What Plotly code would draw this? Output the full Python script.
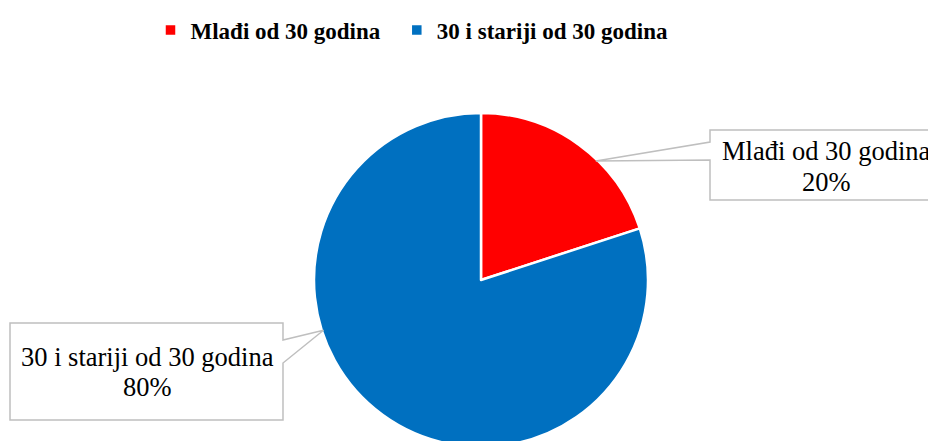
import math
import plotly.graph_objects as go

# data
labels = ["Mlađi od 30 godina", "30 i stariji od 30 godina"]
values = [20, 80]
colors = ["#FF0000", "#0070C0"]

W, H = 936, 441
OX, OY = 8, 8  # page offset of the plot div
FONT = "Liberation Serif, Times New Roman, serif"

# pie geometry in screen pixels
cx, cy, r = 481, 280, 167


def px(x, y):
    # screen pixel -> paper coords (margins are zero)
    return (x - OX) / W, 1 - (y - OY) / H


fig = go.Figure()

x0p, _ = px(cx - r, 0)
x1p, _ = px(cx + r, 0)
_, y1p = px(0, cy - r)
_, y0p = px(0, cy + r)

# a little trailing space on the first legend entry to widen the gap between items
legend_labels = [labels[0] + "\u00a0" * 2, labels[1]]

fig.add_trace(go.Pie(
    labels=legend_labels,
    values=values,
    marker=dict(colors=colors, line=dict(color="white", width=2.5)),
    sort=False,
    direction="clockwise",
    rotation=0,
    textinfo="none",
    customdata=labels,
    hovertemplate="%{customdata}<br>%{percent}<extra></extra>",
    domain=dict(x=[x0p, x1p], y=[max(y0p, 0), y1p]),
))

total = sum(values)
pct = [f"{v / total * 100:.0f}%" for v in values]


def callout(box, tip_angle, side):
    # box = (x0, y0, x1, y1) in px; pointer from pie edge at tip_angle (deg, clockwise from top)
    bx0, by0, bx1, by1 = box
    a = math.radians(tip_angle)
    tx = cx + r * 0.99 * math.sin(a)
    ty = cy - r * 0.99 * math.cos(a)
    if side == "left":
        pts = [(bx0, by0), (bx1, by0), (bx1, by1), (bx0, by1), (bx0, 160), (tx, ty), (bx0, 142)]
    else:
        pts = [(bx0, by0), (bx1, by0), (bx1, 340), (tx, ty), (bx1, 363), (bx1, by1), (bx0, by1)]
    path = ""
    for i, (x, y) in enumerate(pts):
        u, v = px(x, y)
        path += ("M" if i == 0 else "L") + f"{u:.5f},{v:.5f} "
    path += "Z"
    fig.add_shape(type="path", path=path, xref="paper", yref="paper",
                  fillcolor="white", line=dict(color="#BFBFBF", width=1.5), layer="above")


callout((710, 130, 950, 200), 44, "left")
callout((10, 323, 283, 420), 252.3, "right")

# label text, one annotation per line
label_pos = [(826, 151, 182), (147, 357, 387)]
for (tx, ly1, ly2), lab, p in zip(label_pos, labels, pct):
    for txt, ty in ((lab, ly1), (p, ly2)):
        u, v = px(tx, ty)
        fig.add_annotation(x=u, y=v, xref="paper", yref="paper", showarrow=False,
                           xanchor="center", yanchor="middle", text=txt,
                           font=dict(family=FONT, size=26.5, color="black"))

lx, ly = px(150.5, 30)
fig.update_layout(
    width=W,
    height=H,
    margin=dict(l=0, r=0, t=0, b=0),
    paper_bgcolor="white",
    plot_bgcolor="white",
    showlegend=True,
    legend=dict(
        orientation="h",
        x=lx, xanchor="left",
        y=ly, yanchor="middle",
        font=dict(family=FONT, size=23, color="black", weight="bold"),
        itemwidth=30,
        traceorder="normal",
    ),
)

fig.write_html("out.html")
